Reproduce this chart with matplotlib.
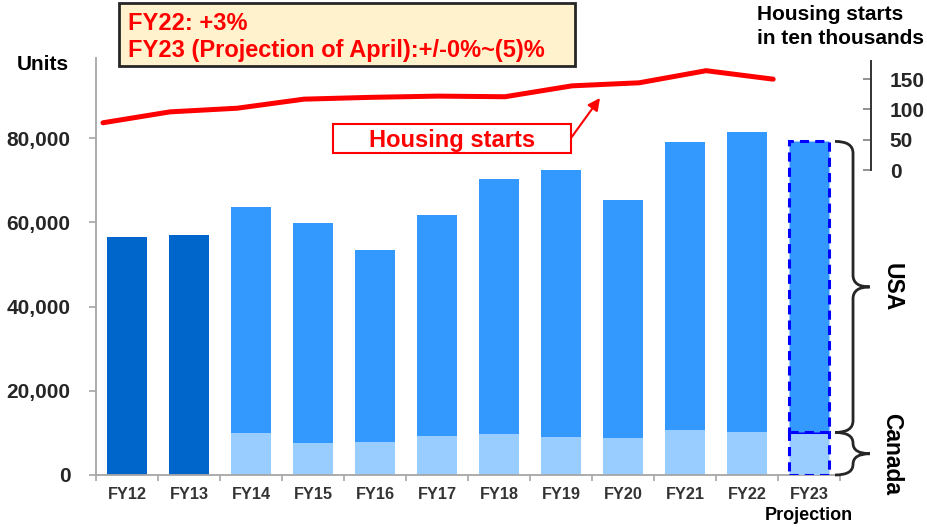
import numpy as np
import matplotlib
matplotlib.use('Agg')
import matplotlib.pyplot as plt
from matplotlib.path import Path
from matplotlib.patches import PathPatch, Rectangle

plt.rcParams['font.family'] = ['Liberation Sans', 'DejaVu Sans']
plt.rcParams['font.weight'] = 'bold'

# Data (units sold, housing starts in ten thousands)
years = ['FY12', 'FY13', 'FY14', 'FY15', 'FY16', 'FY17', 'FY18',
         'FY19', 'FY20', 'FY21', 'FY22', 'FY23']
total_units = [56500, 57000, 63600, 59800, 53400, 61700, 70200,
               72400, 65200, 79000, 81400, 79200]
canada_units = [0, 0, 10000, 7700, 7800, 9300, 9800,
                9000, 8800, 10700, 10200, 10100]   # FY12-13 not split
housing_starts = [78, 96, 102, 117, 120, 122, 121, 139, 144, 164, 150]  # FY12-FY22
y_ticks = [0, 20000, 40000, 60000, 80000]
hs_ticks = [0, 50, 100, 150]

W, H = 927, 527
fig = plt.figure(figsize=(W / 100, H / 100), dpi=100)

# main bar axes
ax = fig.add_axes([96 / W, 52 / H, 744 / W, 417 / H])
x = np.arange(len(years))
total = np.array(total_units)
canada = np.array(canada_units)
usa = total - canada
split = canada > 0
proj = len(years) - 1
hist = split & (x != proj)
bw = 0.65

ax.bar(x[~split], total[~split], width=bw, color='#0066CC', zorder=2)
ax.bar(x[hist], canada[hist], width=bw, color='#99CCFF', zorder=2)
ax.bar(x[hist], usa[hist], bottom=canada[hist], width=bw, color='#3399FF', zorder=2)
# projection bar with dashed outline
dash = dict(edgecolor='#0000FF', linestyle=(0, (3, 2)), linewidth=2.2, zorder=3)
ax.bar(x[proj], canada[proj], width=bw, color='#99CCFF', **dash)
ax.bar(x[proj], usa[proj], bottom=canada[proj], width=bw, color='#3399FF', **dash)

ax.set_xlim(-0.5, len(years) - 0.5)
ax.set_ylim(0, 99000)
ax.set_yticks(y_ticks)
ax.set_yticklabels([f'{v:,}' for v in y_ticks])
ax.set_xticks(x)
ax.set_xticklabels(years)
ax.set_xticks(np.arange(-0.5, len(years)), minor=True)
for s in ['top', 'right']:
    ax.spines[s].set_visible(False)
for s in ['left', 'bottom']:
    ax.spines[s].set_color('#A6A6A6')
    ax.spines[s].set_linewidth(1.3)
ax.tick_params(axis='y', length=5, width=1.2, color='#A6A6A6', pad=13.5,
               labelsize=15, labelcolor='#262626')
ax.tick_params(axis='x', which='major', length=0, pad=8.6,
               labelsize=11.7, labelcolor='#333333')
ax.tick_params(axis='x', which='minor', length=4, width=1.2, color='#A6A6A6')

ax.text(x[proj], -0.096, 'Projection', transform=ax.get_xaxis_transform(),
        ha='center', va='center', fontsize=13, color='black')


# curly braces for USA / Canada of the projection bar
def brace(y0, y1, xa, xb, xc, r):
    ym = (y0 + y1) / 2
    verts = [(xa, y1), (xb, y1), (xb, y1 - r), (xb, ym + r),
             (xb, ym), (xc, ym), (xb, ym), (xb, ym - r),
             (xb, y0 + r), (xb, y0), (xa, y0)]
    codes = [Path.MOVETO, Path.CURVE3, Path.CURVE3, Path.LINETO,
             Path.CURVE3, Path.CURVE3, Path.CURVE3, Path.CURVE3,
             Path.LINETO, Path.CURVE3, Path.CURVE3]
    ax.add_patch(PathPatch(Path(verts, codes), fill=False, lw=2,
                           edgecolor='#262626', clip_on=False, zorder=4))
    return ym


bx = proj + 0.5
ym_usa = brace(canada[proj], total[proj], bx - 0.08, bx + 0.21, bx + 0.48, 2800)
ym_can = brace(0, canada[proj], bx - 0.08, bx + 0.21, bx + 0.48,
               min(2800, canada[proj] / 4))
ax.text(bx + 0.84, ym_usa, 'USA', rotation=-90, ha='center', va='center',
        fontsize=16.5, color='black', clip_on=False)
ax.text(bx + 0.84, ym_can, 'Canada', rotation=-90, ha='center', va='center',
        fontsize=16.5, color='black', clip_on=False)

# housing starts line, own small axis on the right
lax = fig.add_axes([96 / W, (H - 170) / H, 775 / W, 109 / H])
lax.patch.set_visible(False)
lax.plot(np.arange(len(housing_starts)), housing_starts, color='#FF0000',
         lw=3.6, clip_on=False, solid_capstyle='round', solid_joinstyle='round')
lax.set_xlim(-0.104, 11.46)
lax.set_ylim(0, 180)
lax.set_xticks([])
lax.yaxis.tick_right()
lax.set_yticks(hs_ticks)
for s in ['left', 'top', 'bottom']:
    lax.spines[s].set_visible(False)
lax.spines['right'].set_color('#333333')
lax.spines['right'].set_linewidth(1.4)
lax.tick_params(axis='y', direction='in', length=6, width=1.2, color='#7F7F7F',
                pad=13.5, labelsize=15, labelcolor='#262626')

# texts and boxes
fig.text(17 / W, 1 - 65 / H, 'Units', fontsize=15, va='center', ha='left',
         color='black')
fig.text(757 / W, 1 - 14 / H, 'Housing starts', fontsize=15, va='center',
         ha='left', color='black')
fig.text(757 / W, 1 - 38 / H, 'in ten thousands', fontsize=15, va='center',
         ha='left', color='black')

fig.add_artist(Rectangle((119 / W, 1 - 66 / H), 456 / W, 63 / H,
                         transform=fig.transFigure, facecolor='#FFF2CC',
                         edgecolor='#262626', lw=2))
fig.text(128 / W, 1 - 30 / H, 'FY22: +3%', fontsize=17, color='#FF0000',
         va='baseline', ha='left')
fig.text(128 / W, 1 - 56.5 / H, 'FY23 (Projection of April):+/-0%~(5)%',
         fontsize=17, color='#FF0000', va='baseline', ha='left')

fig.add_artist(Rectangle((333 / W, 1 - 153 / H), 238 / W, 29 / H,
                         transform=fig.transFigure, facecolor='white',
                         edgecolor='#FF0000', lw=1.5))
fig.text(452 / W, 1 - 146.5 / H, 'Housing starts', fontsize=17,
         color='#FF0000', va='baseline', ha='center')
ax.annotate('', xy=(600 / W, 1 - 98 / H), xycoords='figure fraction',
            xytext=(571 / W, 1 - 138 / H), textcoords='figure fraction',
            arrowprops=dict(arrowstyle='-|>', color='#FF0000', lw=1.5,
                            mutation_scale=18, shrinkA=0, shrinkB=0))

fig.savefig('out.png', dpi=100)
